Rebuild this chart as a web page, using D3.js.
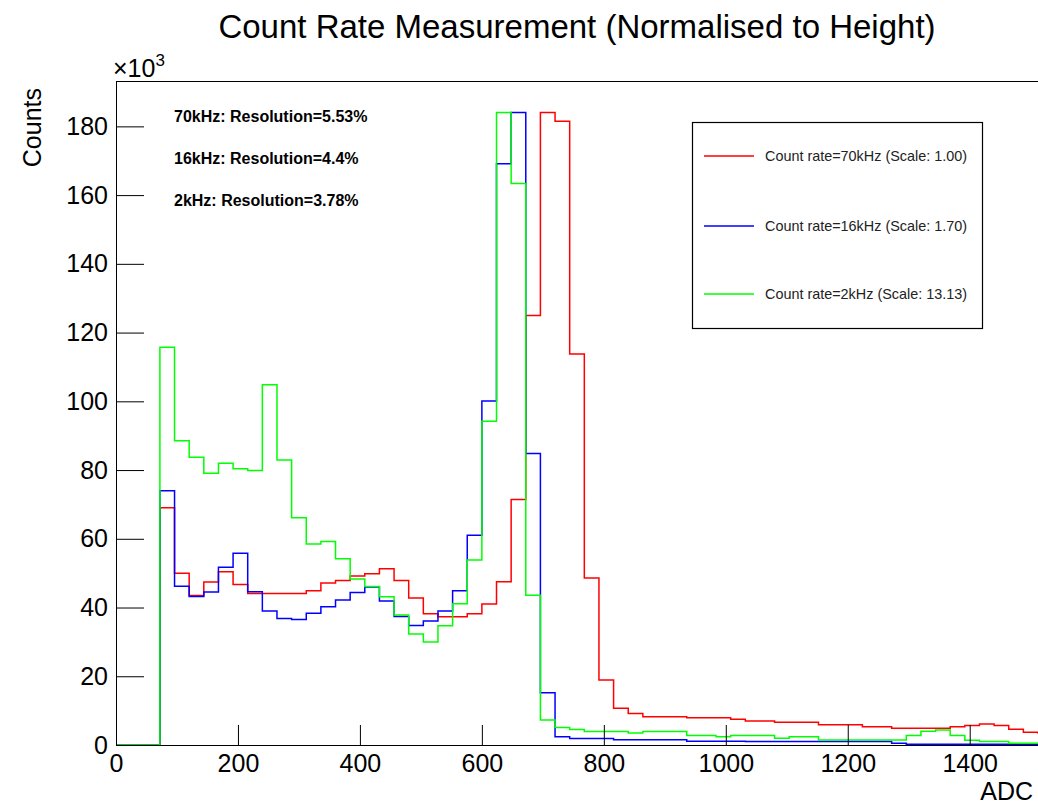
<!DOCTYPE html>
<html>
<head>
<meta charset="utf-8">
<script src="https://cdn.jsdelivr.net/npm/d3@7"></script>
<style>
  body { margin: 0; background: #fff; }
  text { font-family: "Liberation Sans", Arial, Helvetica, sans-serif; }
</style>
</head>
<body>
<div id="chart"></div>
<script>
// bin width 24 ADC, bins start at 0; values in units of 10^3 counts
const binWidth = 24;

const red70k = [0, 0, 0, 69, 50, 43.5, 47.4, 50.4, 46.7, 44.1,
  44.1, 44.1, 44.1, 44.9, 47.1, 47.9, 49.2, 49.8, 51.3, 47.9,
  42.8, 38.2, 37.3, 37.3, 38.2, 41, 47.5, 71.4, 125, 184,
  181.5, 113.8, 48.6, 18.9, 10.7, 9.2, 8.2, 8.2, 8.2, 7.9,
  7.9, 7.9, 7.5, 7.0, 7.0, 6.6, 6.6, 6.6, 5.9, 5.9,
  5.9, 5.3, 5.3, 4.9, 4.9, 4.9, 4.9, 5.3, 5.7, 6.1,
  5.7, 4.6, 3.7, 3.5];

const blue16k = [0, 0, 0, 74, 46.2, 43.2, 44.5, 51.7, 55.8, 44.6,
  39.0, 36.8, 36.5, 38.3, 40.2, 42.2, 44.4, 46.0, 41.9, 37.4,
  34.8, 36.1, 39.0, 44.9, 61, 100.1, 169.1, 184, 84.8, 15.2,
  2.4, 1.9, 1.9, 1.9, 1.5, 1.5, 1.5, 1.5, 1.5, 1.1,
  1.1, 1.1, 1.1, 1.0, 1.0, 1.0, 1.0, 1.0, 1.0, 1.0,
  1.0, 1.0, 1.0, 0.5, 0.2, 0.2, 0.2, 0.2, 0.2, 0.2,
  0.2, 0.2, 0.2, 0.2];

const green2k = [0, 0, 0, 115.7, 88.5, 83.7, 79.1, 82, 80.4, 79.9,
  104.8, 82.9, 66.1, 58.5, 59.2, 54.2, 48.3, 46.1, 43.1, 37.8,
  32.3, 30, 34.7, 41.1, 53.8, 94.2, 184, 163.4, 43.6, 7.3,
  5.1, 4.5, 3.9, 3.9, 3.9, 3.5, 3.9, 3.9, 3.9, 2.8,
  2.8, 2.4, 2.8, 2.8, 2.8, 2.0, 2.4, 2.4, 1.45, 1.45,
  1.45, 1.45, 1.45, 1.45, 2.8, 4.0, 4.4, 2.8, 1.4, 1.0,
  1.0, 0.5, 0.5, 0.5];

const seriesNames = ["Count rate=70kHz (Scale: 1.00)", "Count rate=16kHz (Scale: 1.70)", "Count rate=2kHz (Scale: 13.13)"];
const seriesColors = ["#ff0000", "#0000ff", "#00ff00"];
const resolutionNotes = ["70kHz: Resolution=5.53%", "16kHz: Resolution=4.4%", "2kHz: Resolution=3.78%"];

const xMajor = d3.range(0, 1401, 200);
const xMinor = d3.range(0, 1512, 50);
const yMajor = d3.range(0, 181, 20);
const yMinor = d3.range(0, 193, 5);

const W = 1038, H = 805;
const svg = d3.select("#chart").append("svg")
  .attr("width", W)
  .attr("height", H);

const x = d3.scaleLinear().domain([0, 1512]).range([116, 1038]);
const y = d3.scaleLinear().domain([0, 193.2]).range([745, 81]);

svg.append("defs").append("clipPath").attr("id", "plot")
  .append("rect")
  .attr("x", 116).attr("y", 70)
  .attr("width", 922).attr("height", 680);

// frame top line
svg.append("line")
  .attr("x1", 116).attr("x2", W)
  .attr("y1", 81.5).attr("y2", 81.5)
  .attr("stroke", "#000");

// histograms (red first, green on top)
const hists = [red70k, blue16k, green2k];
const line = d3.line().x(d => x(d[0])).y(d => y(d[1]));

hists.forEach((vals, k) => {
  const pts = [];
  vals.forEach((v, i) => {
    pts.push([i * binWidth, v]);
    pts.push([(i + 1) * binWidth, v]);
  });
  svg.append("path")
    .attr("clip-path", "url(#plot)")
    .attr("d", line(pts))
    .attr("fill", "none")
    .attr("stroke", seriesColors[k])
    .attr("stroke-width", 1.5);
});

// axes
const gx = svg.append("g").attr("transform", "translate(0,745)");
gx.call(d3.axisBottom(x).tickValues(xMinor).tickSize(-10).tickSizeOuter(0).tickFormat(""));
gx.call(d3.axisBottom(x).tickValues(xMajor).tickSize(-20).tickSizeOuter(0).tickPadding(9).tickFormat(d3.format("d")));

const gy = svg.append("g").attr("transform", "translate(116,0)");
gy.call(d3.axisLeft(y).tickValues(yMinor).tickSize(-14).tickSizeOuter(0).tickFormat(""));
gy.call(d3.axisLeft(y).tickValues(yMajor).tickSize(-28).tickSizeOuter(0).tickPadding(8));

svg.selectAll(".domain").attr("stroke", "#000");
svg.selectAll(".tick line").attr("stroke", "#000");
svg.selectAll(".tick text")
  .attr("font-size", 25)
  .attr("font-family", "Liberation Sans, Arial, sans-serif")
  .attr("fill", "#000");

// exponent label
const ex = svg.append("text").attr("x", 113).attr("y", 77).attr("font-size", 25);
ex.append("tspan").text("\u00d710");
ex.append("tspan").attr("font-size", 17).attr("dy", -11).text("3");

// titles
svg.append("text")
  .attr("x", 577).attr("y", 38)
  .attr("text-anchor", "middle")
  .attr("font-size", 33)
  .text("Count Rate Measurement (Normalised to Height)");

svg.append("text")
  .attr("transform", "translate(41,88) rotate(-90)")
  .attr("text-anchor", "end")
  .attr("font-size", 25)
  .text("Counts");

svg.append("text")
  .attr("x", 1033).attr("y", 800)
  .attr("text-anchor", "end")
  .attr("font-size", 25)
  .text("ADC");

// resolution notes
resolutionNotes.forEach((t, i) => {
  svg.append("text")
    .attr("x", 174).attr("y", 122 + i * 42)
    .attr("font-size", 16)
    .attr("font-weight", "bold")
    .text(t);
});

// legend
svg.append("rect")
  .attr("x", 692.5).attr("y", 122.5)
  .attr("width", 290).attr("height", 206)
  .attr("fill", "#fff")
  .attr("stroke", "#000")
  .attr("stroke-width", 1.2);

const legY = [156, 226, 294];
seriesNames.forEach((name, i) => {
  svg.append("line")
    .attr("x1", 704).attr("x2", 754)
    .attr("y1", legY[i]).attr("y2", legY[i])
    .attr("stroke", seriesColors[i])
    .attr("stroke-width", 1.5);
  svg.append("text")
    .attr("x", 765).attr("y", legY[i] + 5)
    .attr("font-size", 14.4)
    .attr("fill", "#222")
    .text(name);
});
</script>
</body>
</html>
